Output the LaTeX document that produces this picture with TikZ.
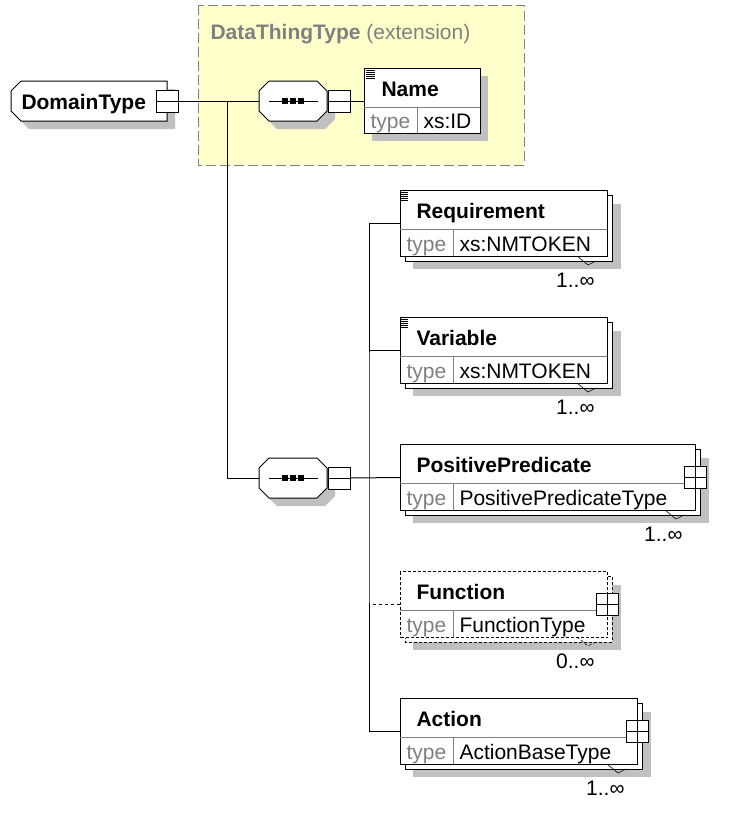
\documentclass[tikz,border=0pt]{standalone}
\usepackage{fontspec}
\setmainfont{Liberation Sans}
\usetikzlibrary{shadows}

\definecolor{extyellow}{RGB}{255,255,204}
\definecolor{extborder}{RGB}{128,128,128}
\definecolor{shadegray}{RGB}{192,192,192}
\definecolor{typegray}{RGB}{128,128,128}

\tikzset{
  elem/.style={draw, fill=white, rectangle, inner sep=0pt, anchor=north west, minimum height=66pt},
  backbox/.style={draw, fill=white},
  shadebox/.style={fill=shadegray},
  divider/.style={draw=typegray},
  lbl/.style={inner sep=0pt, anchor=base west},
  elemname/.style={lbl, font=\fontsize{21}{25}\selectfont\bfseries},
  typelbl/.style={lbl, text=typegray},
  mult/.style={inner sep=0pt, anchor=base east},
  optional/.style={dash pattern=on 3pt off 2pt},
  octa/.style={draw, fill=white},
  seqnode/.style={rectangle, inner sep=0pt, minimum width=68pt, minimum height=40pt},
  btn/.style={draw, fill=white, rectangle, minimum size=22pt, inner sep=0pt,
    drop shadow={shadow xshift=1pt, shadow yshift=-1pt, fill=black, opacity=1}},
  minusbtn/.style={btn, path picture={\draw (path picture bounding box.west) -- (path picture bounding box.east);}},
  plusbtn/.style={btn, path picture={\draw (path picture bounding box.west) -- (path picture bounding box.east);
    \draw (path picture bounding box.north) -- (path picture bounding box.south);}},
}

\begin{document}
\begin{tikzpicture}[x=1pt, y=-1pt, line width=1pt, font=\fontsize{21}{25}\selectfont]
\useasboundingbox [fill=white] (0,0) rectangle (750,831);

% extension frame
\draw [draw=extborder, fill=extyellow, dash pattern=on 10pt off 4pt] (198,5) rectangle (524,165);
\node [lbl, text=typegray] (exttitle) at (210,39) {\textbf{DataThingType} (extension)};

% root
\fill [shadebox] (29,89) -- (175,89) -- (175,129) -- (29,129) -- (19,119) -- (19,99) -- cycle;
\draw [octa] (21,81) -- (167,81) -- (167,121) -- (21,121) -- (11,111) -- (11,91) -- cycle;
\node [seqnode, minimum width=156pt] (dom) at (89,101) {};
\node [elemname] (domlbl) at (21,109) {DomainType};
\node [minusbtn] (dombtn) at (167,101) {};

% sequences
\fill [shadebox] (277,89) -- (325,89) -- (335,99) -- (335,119) -- (325,129) -- (277,129) -- (267,119) -- (267,99) -- cycle;
\draw [octa] (269,81) -- (317,81) -- (327,91) -- (327,111) -- (317,121) -- (269,121) -- (259,111) -- (259,91) -- cycle;
\node [seqnode] (seqA) at (293,101) {};
\draw (269,101) -- (318,101);
\fill (282,98) rectangle (288,104);
\fill (290,98) rectangle (296,104);
\fill (298,98) rectangle (304,104);
\node [minusbtn] (seqAbtn) at (339,101) {};

\fill [shadebox] (277,466) -- (325,466) -- (335,476) -- (335,496) -- (325,506) -- (277,506) -- (267,496) -- (267,476) -- cycle;
\draw [octa] (269,458) -- (317,458) -- (327,468) -- (327,488) -- (317,498) -- (269,498) -- (259,488) -- (259,468) -- cycle;
\node [seqnode] (seqB) at (293,478) {};
\draw (269,478) -- (318,478);
\fill (282,475) rectangle (288,481);
\fill (290,475) rectangle (296,481);
\fill (298,475) rectangle (304,481);
\node [minusbtn] (seqBbtn) at (339,478) {};

% Name
\fill [shadebox] (372,76) rectangle (488,141);
\node [elem, minimum width=116pt, minimum height=65pt] (nameel) at (364,68) {};
\draw [divider] (364,107) -- (480,107);
\draw [divider] (417,107) -- (417,133);
\foreach \k in {70,72,...,78} \draw [line width=0.8pt] (366,\k) -- (375,\k);
\node [elemname] (namelbl) at (381,96) {Name};
\node [typelbl] (nametype) at (370,128) {type};
\node [lbl] (nameval) at (423,128) {xs:ID};

% Requirement
\fill [shadebox] (413,204) rectangle (621,269);
\draw [backbox] (405,195) rectangle (612,261);
\node [elem, minimum width=207pt] (req) at (400,190) {};
\draw [divider] (400,229) -- (607,229);
\draw [divider] (453,229) -- (453,256);
\foreach \k in {192,194,...,200} \draw [line width=0.8pt] (400,\k) -- (408,\k);
\node [elemname] (reqlbl) at (416,218) {Requirement};
\node [typelbl] (reqtype) at (406,251) {type};
\node [lbl] (reqval) at (459,251) {xs:NMTOKEN};
\draw [line width=0.6pt] (577,256) -- (588,265) -- (596,261);
\node [mult] (reqmult) at (595,287) {1..∞};

% Variable
\fill [shadebox] (413,331) rectangle (621,396);
\draw [backbox] (405,322) rectangle (612,388);
\node [elem, minimum width=207pt] (var) at (400,317) {};
\draw [divider] (400,356) -- (607,356);
\draw [divider] (453,356) -- (453,383);
\foreach \k in {319,321,...,327} \draw [line width=0.8pt] (400,\k) -- (408,\k);
\node [elemname] (varlbl) at (416,345) {Variable};
\node [typelbl] (vartype) at (406,378) {type};
\node [lbl] (varval) at (459,378) {xs:NMTOKEN};
\draw [line width=0.6pt] (577,383) -- (588,392) -- (596,388);
\node [mult] (varmult) at (595,414) {1..∞};

% PositivePredicate
\fill [shadebox] (413,458) rectangle (709,523);
\draw [backbox] (405,449) rectangle (700,515);
\node [elem, minimum width=295pt] (pospred) at (400,444) {};
\draw [divider] (400,483) -- (695,483);
\draw [divider] (453,483) -- (453,510);
\node [elemname] (pospredlbl) at (416,472) {PositivePredicate};
\node [typelbl] (pospredtype) at (406,505) {type};
\node [lbl] (pospredval) at (459,505) {PositivePredicateType};
\draw [line width=0.6pt] (665,510) -- (676,519) -- (684,515);
\node [mult] (pospredmult) at (683,541) {1..∞};
\node [plusbtn] (pospredbtn) at (695,477) {};

% Function
\fill [shadebox] (413,585) rectangle (621,650);
\draw [backbox, optional] (405,576) rectangle (612,642);
\node [elem, optional, minimum width=207pt] (func) at (400,571) {};
\draw [divider] (400,610) -- (607,610);
\draw [divider] (453,610) -- (453,637);
\node [elemname] (funclbl) at (416,599) {Function};
\node [typelbl] (functype) at (406,632) {type};
\node [lbl] (funcval) at (459,632) {FunctionType};
\draw [line width=0.6pt, optional] (577,637) -- (588,646) -- (596,642);
\node [mult] (funcmult) at (595,668) {0..∞};
\node [plusbtn] (funcbtn) at (607,604) {};

% Action
\fill [shadebox] (413,712) rectangle (651,777);
\draw [backbox] (405,703) rectangle (642,769);
\node [elem, minimum width=237pt] (action) at (400,698) {};
\draw [divider] (400,737) -- (637,737);
\draw [divider] (453,737) -- (453,764);
\node [elemname] (actionlbl) at (416,726) {Action};
\node [typelbl] (actiontype) at (406,759) {type};
\node [lbl] (actionval) at (459,759) {ActionBaseType};
\draw [line width=0.6pt] (607,764) -- (618,773) -- (626,769);
\node [mult] (actionmult) at (625,795) {1..∞};
\node [plusbtn] (actionbtn) at (637,731) {};

% connectors
\coordinate (fork) at (227,101);
\coordinate (bus) at (369,478);
\draw (dombtn.east) -- (seqA.west);
\draw (fork) |- (seqB.west);
\draw (seqAbtn.east) -- (nameel.west);
\draw (seqBbtn.east) -- (pospred.west);
\draw (req.west) -| (bus) |- (action.west);
\draw (var.west) -- (var.west -| bus);
\draw [dashed] (func.west) -- (func.west -| bus);
\end{tikzpicture}
\end{document}
